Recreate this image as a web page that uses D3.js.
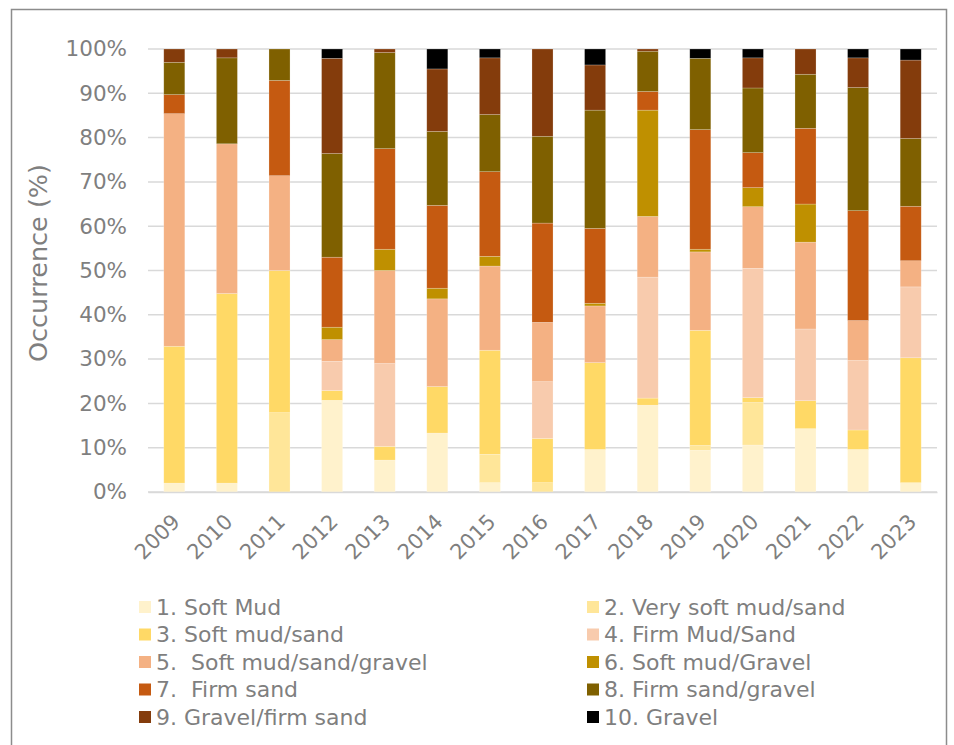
<!DOCTYPE html>
<html>
<head>
<meta charset="utf-8">
<script src="https://cdn.jsdelivr.net/npm/d3@7"></script>
<style>
    body { margin: 0; background: #fff; }
    text { font-family: "DejaVu Sans", Verdana, sans-serif; fill: #7f7f7f; }
    .legend-label text { white-space: pre; }
</style>
</head>
<body>
<div id="vis-container"></div>
<script>
"use strict";

// Years on the x-axis
const years = ["2009", "2010", "2011", "2012", "2013", "2014", "2015", "2016",
    "2017", "2018", "2019", "2020", "2021", "2022", "2023"];

// Series names (legend order)
const seriesNames = ["1. Soft Mud", "2. Very soft mud/sand", "3. Soft mud/sand",
    "4. Firm Mud/Sand", "5.  Soft mud/sand/gravel", "6. Soft mud/Gravel",
    "7.  Firm sand", "8. Firm sand/gravel", "9. Gravel/firm sand", "10. Gravel"];

const seriesColors = ["#FFF2CC", "#FFE699", "#FFD966", "#F8CBAD", "#F4B183",
    "#BF9000", "#C55A11", "#7F6000", "#843C0C", "#000000"];

// Occurrence (%) per year, one array per sediment class
const softMud        = [2.0, 2.0, 0, 20.7, 7.2, 13.3, 2.1, 0, 9.6, 19.6, 9.4, 10.6, 14.3, 9.6, 2.1];
const verySoftMud    = [0, 0, 17.9, 0, 0, 0, 6.4, 2.1, 0, 0, 1.1, 9.6, 0, 0, 0];
const softMudSand    = [30.9, 42.8, 32.1, 2.2, 3.1, 10.5, 23.5, 10.0, 19.6, 1.6, 26.0, 1.1, 6.3, 4.4, 28.2];
const firmMudSand    = [0, 0, 0, 6.6, 18.7, 0, 0, 12.8, 0, 27.3, 0, 29.2, 16.2, 15.7, 16.0];
const softMudGravelS = [52.5, 33.8, 21.4, 4.9, 21.0, 19.8, 19.0, 13.4, 12.8, 13.7, 17.7, 13.9, 19.6, 9.0, 5.9];
const softMudGravel  = [0, 0, 0, 2.8, 4.8, 2.4, 2.2, 0, 0.6, 24.0, 0.6, 4.3, 8.6, 0, 0];
const firmSand       = [4.3, 0, 21.5, 15.8, 22.7, 18.7, 19.1, 22.4, 16.9, 4.2, 27.0, 7.9, 17.1, 24.8, 12.3];
const firmSandGravel = [7.3, 19.4, 7.1, 23.4, 21.7, 16.7, 12.9, 19.6, 26.7, 9.1, 16.1, 14.6, 12.2, 27.8, 15.3];
const gravelFirmSand = [3.0, 2.0, 0, 21.5, 0.8, 14.1, 12.8, 19.7, 10.2, 0.5, 0, 6.8, 5.7, 6.7, 17.7];
const gravel         = [0, 0, 0, 2.1, 0, 4.5, 2.0, 0, 3.6, 0, 2.1, 2.0, 0, 2.0, 2.5];

const seriesValues = [softMud, verySoftMud, softMudSand, firmMudSand, softMudGravelS,
    softMudGravel, firmSand, firmSandGravel, gravelFirmSand, gravel];

const yTicks = [0, 10, 20, 30, 40, 50, 60, 70, 80, 90, 100];

function mainIndex()
{
    const width = 954;
    const height = 745;

    const margin = { top: 49, right: 17, bottom: 253, left: 148 };
    const dims = {
        width: width - margin.left - margin.right,
        height: height - margin.top - margin.bottom
    };

    // Build rows for d3.stack, normalised to 100 %
    const keys = seriesNames.map((d, i) => "s" + i);
    const rows = years.map((yr, j) => {
        const row = { year: yr };
        let total = 0;
        seriesValues.forEach(arr => total += arr[j]);
        keys.forEach((k, i) => row[k] = seriesValues[i][j] / total * 100);
        return row;
    });

    const stacked = d3.stack().keys(keys)(rows);

    const x = d3.scaleBand().domain(years).range([0, dims.width]).paddingInner(0.6).paddingOuter(0.3);
    const y = d3.scaleLinear().domain([0, 100]).range([dims.height, 0]);
    const color = d3.scaleOrdinal().domain(keys).range(seriesColors);

    const svg = d3.select("#vis-container")
        .append("svg")
        .attr("width", width)
        .attr("height", height);

    // Outer frame (open at the bottom, as in the reference)
    svg.append("path")
        .attr("d", "M11.5,760 V9.5 H946.5 V760")
        .attr("fill", "none")
        .attr("stroke", "#8c8c8c")
        .attr("stroke-width", 1.5);

    const g = svg.append("g")
        .attr("transform", `translate(${margin.left},${margin.top})`);

    // Gridlines
    g.append("g")
        .selectAll("line")
        .data(yTicks)
        .enter()
        .append("line")
        .attr("x1", 0)
        .attr("x2", dims.width)
        .attr("y1", d => y(d))
        .attr("y2", d => y(d))
        .attr("stroke", "#d9d9d9")
        .attr("stroke-width", 1.5);

    // Y-axis labels
    const yAxis = d3.axisLeft(y).tickValues(yTicks).tickFormat(d => d + "%").tickSize(0).tickPadding(21);
    g.append("g")
        .attr("id", "y-axis")
        .call(yAxis)
        .call(s => s.select(".domain").remove())
        .selectAll("text")
        .style("font-size", "21.5px")
        .attr("fill", "#7f7f7f");

    // Bars
    g.append("g")
        .selectAll("g")
        .data(stacked)
        .enter()
        .append("g")
        .attr("fill", d => color(d.key))
        .selectAll("rect")
        .data(d => d)
        .enter()
        .append("rect")
        .attr("x", d => x(d.data.year))
        .attr("width", x.bandwidth())
        .attr("y", d => y(d[1]))
        .attr("height", d => y(d[0]) - y(d[1]))
        .attr("stroke", "rgba(255,255,255,0.35)")
        .attr("stroke-width", 0.6);

    // X-axis
    const xAxis = d3.axisBottom(x).tickSize(0).tickPadding(0);
    const xg = g.append("g")
        .attr("id", "x-axis")
        .attr("transform", `translate(0, ${dims.height})`)
        .call(xAxis);
    xg.select(".domain").attr("stroke", "#d9d9d9").attr("stroke-width", 1.5);
    xg.selectAll("text")
        .style("font-size", "21px")
        .style("text-anchor", "end")
        .attr("fill", "#7f7f7f")
        .attr("dy", null)
        .attr("y", 0)
        .attr("transform", "translate(7,31) rotate(-45)");

    // Y-axis title
    svg.append("text")
        .attr("transform", "translate(47,263) rotate(-90)")
        .style("text-anchor", "middle")
        .style("font-size", "25.5px")
        .text("Occurrence (%)");

    // Legend: two columns, odd classes left, even classes right
    const legend = svg.append("g")
        .attr("id", "legend")
        .selectAll("g")
        .data(keys)
        .enter()
        .append("g")
        .attr("class", "legend-label")
        .attr("transform", (d, i) => `translate(${i % 2 === 0 ? 139 : 587},${607 + Math.floor(i / 2) * 27.5})`);

    legend.append("rect")
        .attr("x", 0)
        .attr("y", -6)
        .attr("width", 12)
        .attr("height", 12)
        .style("fill", d => color(d));

    legend.append("text")
        .attr("x", 17)
        .attr("y", 0)
        .attr("dy", ".36em")
        .style("font-size", "22px")
        .text((d, i) => seriesNames[i]);
}

document.addEventListener("DOMContentLoaded", mainIndex);
</script>
</body>
</html>
